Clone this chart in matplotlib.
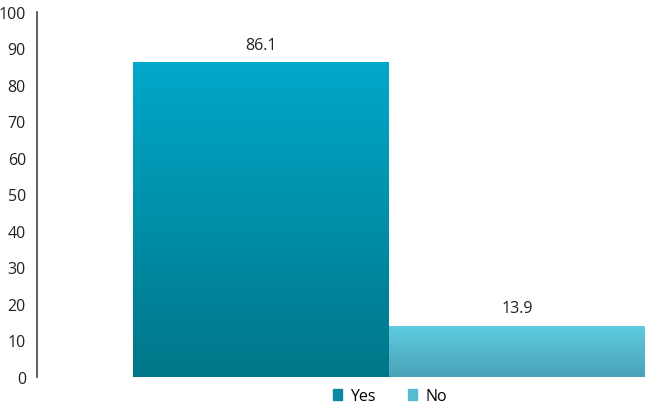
import matplotlib.pyplot as plt
import numpy as np
from matplotlib.patches import Patch
from matplotlib.colors import LinearSegmentedColormap

plt.rcParams['font.family'] = ['Open Sans', 'DejaVu Sans']

series = ['Yes', 'No']
values = [86.1, 13.9]
top_colors = ['#00a8c9', '#5ecbe0']
bottom_colors = ['#007689', '#4aa3b8']
legend_colors = ['#0a8aa2', '#58bad1']

fig = plt.figure(figsize=(6.5, 4.06), dpi=100)
ax = fig.add_axes([0.057, 0.069, 0.943, 0.90])

width = 1.0
offsets = [-width / 2, width / 2]
grad = np.linspace(0, 1, 256).reshape(-1, 1)
for i, (name, val) in enumerate(zip(series, values)):
    bars = ax.bar(offsets[i], val, width=width, color='none', edgecolor='none')
    bar = bars[0]
    x0, y0 = bar.get_x(), bar.get_y()
    cmap = LinearSegmentedColormap.from_list(name, [bottom_colors[i], top_colors[i]])
    im = ax.imshow(grad, cmap=cmap, aspect='auto', origin='lower',
                   extent=[x0, x0 + bar.get_width(), y0, y0 + val], zorder=2)
    im.set_clip_path(bar)
    ax.annotate(f'{val}', (offsets[i], val), xytext=(0, 7), textcoords='offset points',
                ha='center', va='bottom', fontsize=11.5, color='#222222')

ax.set_xlim(-1.375, 1.02)
ax.set_ylim(0, 100)
ax.set_yticks(range(0, 101, 10))
ax.set_xticks([])
ax.tick_params(axis='y', length=0, labelsize=11.5, colors='#222222', pad=8)
for s in ['top', 'right', 'bottom']:
    ax.spines[s].set_visible(False)
ax.spines['left'].set_color('#444444')
ax.spines['left'].set_linewidth(1.2)

handles = [Patch(color=c, label=n) for c, n in zip(legend_colors, series)]
fig.legend(handles=handles, loc='center', bbox_to_anchor=(0.6, 0.022), ncol=2,
           frameon=False, fontsize=11.5, handlelength=0.6, handleheight=0.6,
           columnspacing=2.0, handletextpad=0.5)

fig.savefig('out.png', dpi=100)
